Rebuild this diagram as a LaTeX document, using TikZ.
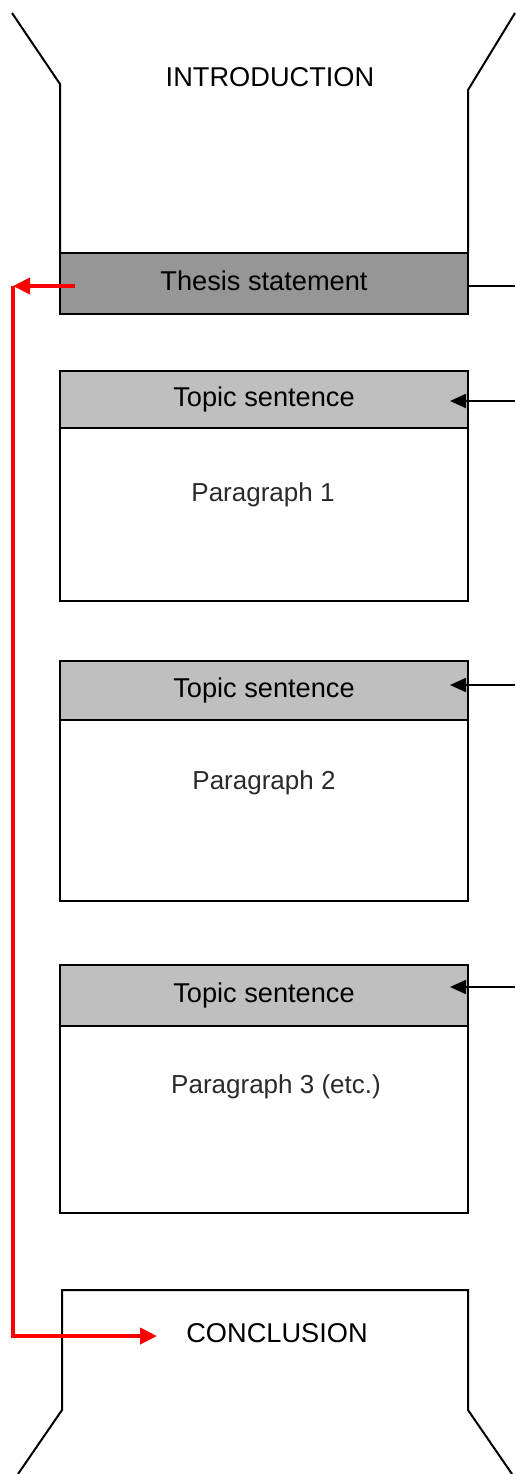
\documentclass[tikz,border=0pt]{standalone}
\usepackage{fontspec}
\setmainfont{Liberation Sans}
\usepackage{xcolor}
\usetikzlibrary{arrows.meta, positioning, calc}
\definecolor{thesisgray}{HTML}{969696}
\definecolor{topicgray}{HTML}{BFBFBF}
\definecolor{paratext}{HTML}{2A2A2A}
\tikzstyle{thesisbox} = [rectangle, minimum width=204pt, minimum height=30.5pt, inner sep=0pt, outer sep=0pt, text centered, draw=black, line width=1pt, fill=thesisgray]
\tikzstyle{topic} = [rectangle, minimum width=204pt, inner sep=0pt, outer sep=0pt, text centered, draw=black, line width=1pt, fill=topicgray]
\tikzstyle{para} = [rectangle, minimum width=204pt, inner sep=0pt, outer sep=0pt, draw=black, line width=1pt]
\tikzstyle{paratxt} = [text=paratext, font=\fontsize{13}{15}\selectfont]
\tikzstyle{outline} = [line width=1pt]
\tikzstyle{arrow} = [line width=1pt, -{Triangle[length=8pt,width=7pt]}]
\tikzstyle{redarrow} = [line width=2pt, red, -{Triangle[length=8.5pt,width=8pt]}]

\begin{document}
\begin{tikzpicture}[x=0.5pt, y=-0.5pt, font=\fontsize{13.6}{16}\selectfont]

\useasboundingbox (0,0) rectangle (515,1474);

\node (intro) at (270,77) {INTRODUCTION};
\node (thesis) [thesisbox, text depth=2.5pt] at (264,283.5) {Thesis statement};

\node (topic1) [topic, minimum height=28.5pt] at (264,399.5) {Topic sentence};
\node (para1) [para, minimum height=86.5pt, below=0pt of topic1] {};
\node (ptext1) [paratxt] at (263,495) {Paragraph 1};

\node (topic2) [topic, minimum height=29.5pt] at (264,690.5) {Topic sentence};
\node (para2) [para, minimum height=90.5pt, below=0pt of topic2] {};
\node (ptext2) [paratxt] at (264,783) {Paragraph 2};

\node (topic3) [topic, minimum height=30.5pt] at (264,995.5) {Topic sentence};
\node (para3) [para, minimum height=93.5pt, below=0pt of topic3] {};
\node (ptext3) [paratxt] at (276,1087) {Paragraph 3 (etc.)};

\node (concl) at (277,1333) {CONCLUSION};

\draw [outline] (12,13) -- (60,84) -- (thesis.north west);
\draw [outline] (515,13) -- (468,90) -- (thesis.north east);
\draw [outline] (18,1474) -- (62,1410) -- (62,1290) -- (468,1290) -- (468,1410) -- (512,1474);

\coordinate (out) at (515,286);
\coordinate (in1) at (515,401);
\coordinate (in2) at (515,685);
\coordinate (in3) at (515,987);
\draw [outline] (thesis.east |- out) -- (out);
\draw [arrow] (in1) -- ($(in1 -| topic1.east)+(-18,0)$);
\draw [arrow] (in2) -- ($(in2 -| topic2.east)+(-18,0)$);
\draw [arrow] (in3) -- ($(in3 -| topic3.east)+(-18,0)$);

\coordinate (corner) at (13,286);
\coordinate (redend) at (157,1336);
\draw [redarrow] ($(thesis.west |- corner)+(15,0)$) -- (corner);
\draw [redarrow] (corner) |- (redend);

\end{tikzpicture}
\end{document}
